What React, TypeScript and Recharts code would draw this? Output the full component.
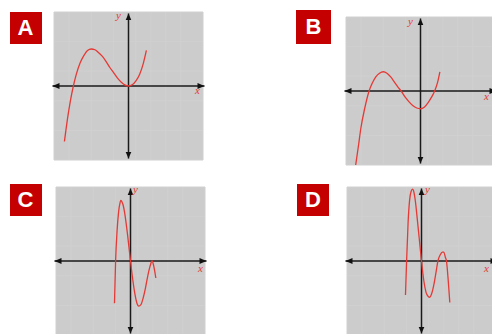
import React from "react";
import { LineChart, Line, XAxis, YAxis, CartesianGrid, ReferenceLine } from "recharts";

// curve A: cubic with double root at origin
const curveAX = [-8.6, -8.2, -7.8, -7.4, -7, -6.5, -6, -5.5, -5, -4.5, -4, -3.5, -3, -2.5, -2, -1.5, -1, -0.5, 0, 0.5, 1, 1.5, 2, 2.4];
const curveAY = [-7.5, -4.5, -2.0, 0, 1.6, 3.1, 4.1, 4.8, 5.0, 4.9, 4.5, 4.0, 3.3, 2.5, 1.8, 1.1, 0.55, 0.16, 0, 0.17, 0.7, 1.6, 3.1, 4.8];

// curve B: cubic with three roots
const curveBX = [-8.7, -8.3, -8, -7.5, -6.9, -6.5, -6, -5.5, -5, -4.5, -4, -3.5, -3, -2.6, -2, -1.5, -1, -0.5, 0, 0.5, 1, 1.5, 1.9, 2.3, 2.6];
const curveBY = [-10, -7.2, -5.0, -2.4, 0, 1.0, 1.9, 2.4, 2.6, 2.4, 1.9, 1.2, 0.5, 0, -0.9, -1.5, -2.0, -2.3, -2.4, -2.2, -1.6, -0.8, 0, 1.2, 2.6];

// curve C: quartic touching the axis at the right
const curveCX = [-2.15, -2.0, -1.8, -1.6, -1.4, -1.3, -1.2, -1.0, -0.8, -0.6, -0.4, -0.2, 0, 0.3, 0.6, 0.9, 1.1, 1.4, 1.7, 2.0, 2.3, 2.6, 2.9, 3.1, 3.4];
const curveCY = [-5.7, 0, 4.1, 6.6, 7.9, 8.2, 8.1, 7.6, 6.6, 5.2, 3.6, 1.8, 0, -2.5, -4.5, -5.8, -6.1, -5.9, -5.0, -3.7, -2.1, -0.8, 0, -0.6, -2.3];

// curve D: quartic with four roots
const curveDX = [-2.15, -2.0, -1.8, -1.6, -1.4, -1.2, -1.0, -0.8, -0.6, -0.4, -0.2, 0, 0.3, 0.6, 0.9, 1.1, 1.4, 1.7, 2.0, 2.2, 2.5, 2.8, 3.0, 3.2, 3.35, 3.6, 3.8];
const curveDY = [-4.6, 0, 5.2, 8.2, 9.4, 9.7, 9.2, 7.9, 6.0, 4.0, 2.0, 0, -2.6, -4.2, -4.8, -4.9, -4.3, -3.0, -1.2, 0, 0.8, 1.2, 1.2, 0.5, 0, -2.8, -5.6];

const gridTicks = [-10, -9, -8, -7, -6, -5, -4, -3, -2, -1, 0, 1, 2, 3, 4, 5, 6, 7, 8, 9, 10];
const letters = ["A", "B", "C", "D"];

const RED = "#e53935";
const PLOT_W = 149;
const PLOT_H = 148;
const M = 5;

const zip = (xs: number[], ys: number[]) => xs.map((x, i) => ({ x, y: ys[i] }));

const panels = [
  { id: "a", data: zip(curveAX, curveAY), left: 54, top: 12, badge: { left: 9.5, top: 11.5, w: 32, h: 32 }, yLab: { left: 116, top: 9 }, xLab: { left: 195, top: 84 } },
  { id: "b", data: zip(curveBX, curveBY), left: 346, top: 17, badge: { left: 296, top: 10, w: 35, h: 34 }, yLab: { left: 408, top: 15 }, xLab: { left: 484, top: 90 } },
  { id: "c", data: zip(curveCX, curveCY), left: 56, top: 187, badge: { left: 9.5, top: 184, w: 32, h: 32 }, yLab: { left: 133, top: 183 }, xLab: { left: 198, top: 262 } },
  { id: "d", data: zip(curveDX, curveDY), left: 347, top: 187, badge: { left: 297, top: 184, w: 32, h: 32 }, yLab: { left: 425, top: 183 }, xLab: { left: 484, top: 262 } },
];

function Panel({ p }: { p: (typeof panels)[number] }) {
  const mk = `arrow-${p.id}`;
  return (
    <>
      <div style={{ position: "absolute", left: p.left, top: p.top, width: PLOT_W, height: PLOT_H, background: "#cccccc" }} />
      <div style={{ position: "absolute", left: p.left - M, top: p.top - M }}>
        <LineChart width={PLOT_W + 2 * M} height={PLOT_H + 2 * M} data={p.data} margin={{ top: M, right: M, bottom: M, left: M }}>
          <defs>
            <marker id={mk} markerWidth={8} markerHeight={8} refX={7} refY={4} orient="auto-start-reverse" markerUnits="userSpaceOnUse">
              <path d="M0,1 L7,4 L0,7 z" fill="#111" />
            </marker>
          </defs>
          <CartesianGrid stroke="#d0d0d0" strokeWidth={1} />
          <XAxis hide type="number" dataKey="x" domain={[-10, 10]} ticks={gridTicks} allowDataOverflow />
          <YAxis hide type="number" domain={[-10, 10]} ticks={gridTicks} allowDataOverflow />
          <ReferenceLine
            segment={[{ x: -10.2, y: 0 }, { x: 10.2, y: 0 }]}
            stroke="#1a1a1a"
            strokeWidth={1.5}
            ifOverflow="visible"
            markerStart={`url(#${mk})`}
            markerEnd={`url(#${mk})`}
          />
          <ReferenceLine
            segment={[{ x: 0, y: -9.8 }, { x: 0, y: 9.8 }]}
            stroke="#1a1a1a"
            strokeWidth={1.5}
            ifOverflow="visible"
            markerStart={`url(#${mk})`}
            markerEnd={`url(#${mk})`}
          />
          <Line type="monotone" dataKey="y" stroke={RED} strokeWidth={1.3} dot={false} isAnimationActive={false} />
        </LineChart>
      </div>
      <span style={{ position: "absolute", left: p.yLab.left, top: p.yLab.top, color: RED, fontFamily: "Liberation Serif, serif", fontStyle: "italic", fontSize: 11 }}>y</span>
      <span style={{ position: "absolute", left: p.xLab.left, top: p.xLab.top, color: RED, fontFamily: "Liberation Serif, serif", fontStyle: "italic", fontSize: 11 }}>x</span>
    </>
  );
}

export default function App() {
  return (
    <div style={{ position: "fixed", left: 0, top: 0, width: 492, height: 334, overflow: "hidden", background: "#fff" }}>
      {panels.map((p, i) => (
        <React.Fragment key={p.id}>
          <div
            style={{
              position: "absolute",
              left: p.badge.left,
              top: p.badge.top,
              width: p.badge.w,
              height: p.badge.h,
              background: "#c40000",
              color: "#fff",
              fontFamily: "Liberation Sans, Arial, sans-serif",
              fontWeight: 700,
              fontSize: 22,
              lineHeight: `${p.badge.h}px`,
              textAlign: "center",
            }}
          >
            {letters[i]}
          </div>
          <Panel p={p} />
        </React.Fragment>
      ))}
    </div>
  );
}
